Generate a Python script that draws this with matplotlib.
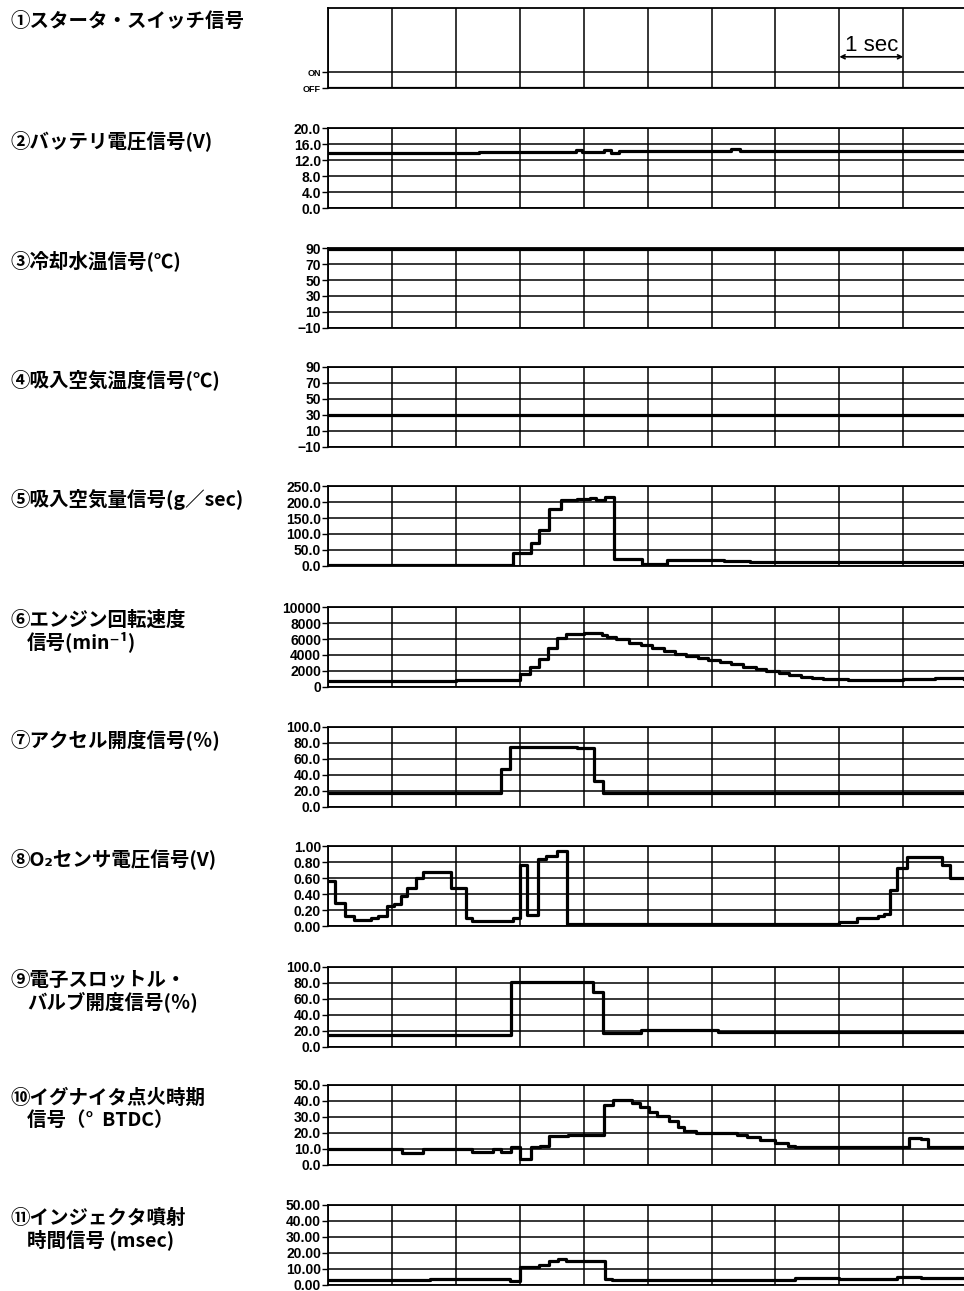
import matplotlib.pyplot as plt

plt.rcParams['font.family'] = ['Noto Sans CJK JP', 'DejaVu Sans']

T_END = 9.95  # seconds visible in the strip

# ---- data (time in s, step values) ----
starter_t = [0, T_END]
starter_v = [0, 0]

batt_t = [0, 2.37, 3.88, 3.98, 4.32, 4.43, 4.56, 6.3, 6.45, T_END]
batt_v = [13.75, 14.0, 14.4, 14.0, 14.4, 13.75, 14.2, 14.7, 14.2, 14.2]

cool_t = [0, T_END]
cool_v = [89.3, 89.3]

intake_t = [0, T_END]
intake_v = [30.5, 30.5]

maf_t = [0, 2.0, 2.89, 3.18, 3.30, 3.46, 3.64, 3.9, 4.1, 4.2, 4.34, 4.48, 4.92,
         5.3, 5.9, 6.2, 6.6, T_END]
maf_v = [2, 3, 42, 72, 113, 178, 205, 208, 213, 207, 215, 23, 7,
         18, 20, 16, 11, 9]

rpm_t = [0, 2.0, 3.01, 3.16, 3.30, 3.44, 3.59, 3.73, 4.0, 4.29, 4.36, 4.5, 4.71,
         4.9, 5.07, 5.25, 5.43, 5.6, 5.79, 5.95, 6.14, 6.3, 6.5, 6.7, 6.86, 7.05,
         7.21, 7.4, 7.57, 7.75, 7.93, 8.14, 8.64, 9.0, 9.5, T_END]
rpm_v = [740, 900, 1650, 2550, 3500, 4850, 6100, 6650, 6800, 6550, 6300, 5950, 5550,
         5200, 4850, 4450, 4100, 3850, 3600, 3350, 3100, 2850, 2550, 2300, 2050, 1750,
         1500, 1300, 1150, 1050, 950, 820, 820, 1000, 1150, 1050]

acc_t = [0, 2.71, 2.85, 3.9, 4.16, 4.31, 6.0, T_END]
acc_v = [17, 48, 75, 74, 32, 17, 18, 18]

o2_t = [0, 0.11, 0.27, 0.40, 0.67, 0.78, 0.92, 1.03, 1.14, 1.24, 1.37, 1.49, 1.93,
        2.16, 2.25, 2.9, 3.0, 3.12, 3.29, 3.41, 3.59, 3.74, 8.0, 8.28, 8.6, 8.7,
        8.8, 8.9, 9.06, 9.6, 9.73, T_END]
o2_v = [0.56, 0.29, 0.12, 0.07, 0.10, 0.13, 0.25, 0.28, 0.37, 0.47, 0.60, 0.68, 0.47,
        0.10, 0.06, 0.095, 0.76, 0.14, 0.84, 0.88, 0.94, 0.02, 0.05, 0.10, 0.12, 0.15,
        0.45, 0.73, 0.86, 0.76, 0.60, 0.60]

thr_t = [0, 2.87, 4.15, 4.31, 4.89, 6.1, T_END]
thr_v = [15, 81, 69, 17, 21, 19, 19]

ign_t = [0, 1.15, 1.48, 2.26, 2.58, 2.71, 2.87, 3.01, 3.18, 3.32, 3.46, 3.75, 4.32,
         4.46, 4.75, 4.88, 5.02, 5.15, 5.33, 5.47, 5.57, 5.76, 6.4, 6.55, 6.76, 7.0,
         7.19, 7.3, 9.09, 9.27, 9.38, T_END]
ign_v = [10, 7.7, 10, 8, 10, 8.3, 11.5, 3.5, 11, 12, 18, 19, 37.5,
         40.6, 39, 36, 33, 30.6, 27.5, 24, 21, 20, 19, 17.5, 15.6, 13.5,
         12, 11.2, 17, 16, 11.2, 11.2]

inj_t = [0, 1.6, 2.85, 3.0, 3.3, 3.45, 3.6, 3.73, 4.0, 4.33, 4.45, 7.3, 8.0, 8.9, 9.27, T_END]
inj_v = [3.0, 3.8, 2.8, 11.3, 12.7, 14.7, 16, 15.3, 14.7, 3.9, 3.2, 4.2, 3.8, 5.2, 4.5, 4.5]

# ---- panel definitions ----
labels = [
    ['①スタータ・スイッチ信号'],
    ['②バッテリ電圧信号(V)'],
    ['③冷却水温信号(℃)'],
    ['④吸入空気温度信号(℃)'],
    ['⑤吸入空気量信号(g／sec)'],
    ['⑥エンジン回転速度', '信号(min⁻¹)'],
    ['⑦アクセル開度信号(％)'],
    ['⑧O₂センサ電圧信号(V)'],
    ['⑨電子スロットル・', 'バルブ開度信号(％)'],
    ['⑩イグナイタ点火時期', '信号（°  BTDC）'],
    ['⑪インジェクタ噴射', '時間信号 (msec)'],
]
yticks = [
    [0, 1],
    [0, 4, 8, 12, 16, 20],
    [-10, 10, 30, 50, 70, 90],
    [-10, 10, 30, 50, 70, 90],
    [0, 50, 100, 150, 200, 250],
    [0, 2000, 4000, 6000, 8000, 10000],
    [0, 20, 40, 60, 80, 100],
    [0, 0.2, 0.4, 0.6, 0.8, 1.0],
    [0, 20, 40, 60, 80, 100],
    [0, 10, 20, 30, 40, 50],
    [0, 10, 20, 30, 40, 50],
]
ylabels = [
    ['OFF', 'ON'],
    ['0.0', '4.0', '8.0', '12.0', '16.0', '20.0'],
    ['−10', '10', '30', '50', '70', '90'],
    ['−10', '10', '30', '50', '70', '90'],
    ['0.0', '50.0', '100.0', '150.0', '200.0', '250.0'],
    ['0', '2000', '4000', '6000', '8000', '10000'],
    ['0.0', '20.0', '40.0', '60.0', '80.0', '100.0'],
    ['0.00', '0.20', '0.40', '0.60', '0.80', '1.00'],
    ['0.0', '20.0', '40.0', '60.0', '80.0', '100.0'],
    ['0.0', '10.0', '20.0', '30.0', '40.0', '50.0'],
    ['0.00', '10.00', '20.00', '30.00', '40.00', '50.00'],
]
series = [(starter_t, starter_v), (batt_t, batt_v), (cool_t, cool_v), (intake_t, intake_v),
          (maf_t, maf_v), (rpm_t, rpm_v), (acc_t, acc_v), (o2_t, o2_v),
          (thr_t, thr_v), (ign_t, ign_v), (inj_t, inj_v)]

W, H = 964, 1291
tops = [8, 128, 248, 367, 486, 607, 727, 846, 967, 1085, 1205]
ph = 80
left = 328

fig = plt.figure(figsize=(W / 100, H / 100), dpi=100)

for i in range(11):
    ax = fig.add_axes([left / W, 1 - (tops[i] + ph) / H, (W - left) / W, ph / H])
    t, v = series[i]
    ax.step(t, v, where='post', color='black', lw=2.3, zorder=3)
    ax.set_xlim(0, T_END)
    if i == 0:
        ax.set_ylim(0, 5)
    else:
        ax.set_ylim(yticks[i][0], yticks[i][-1])
    ax.set_xticks(range(10))
    ax.set_yticks(yticks[i])
    ax.set_yticklabels(ylabels[i], family='Liberation Sans', fontweight='bold',
                       fontsize=6.5 if i == 0 else 10)
    ax.tick_params(axis='x', length=0, labelbottom=False)
    ax.tick_params(axis='y', direction='out', length=4, width=1, pad=1)
    ax.grid(True, color='black', linewidth=1.1)
    ax.spines['right'].set_visible(False)
    for s in ['top', 'left', 'bottom']:
        ax.spines[s].set_linewidth(1.3)

    # panel caption on the left
    y0 = 1 - (tops[i] + 13) / H
    fig.text(10 / W, y0, labels[i][0], fontsize=14, fontweight='bold', va='center', ha='left')
    if len(labels[i]) > 1:
        fig.text(27 / W, y0 - 22 / H, labels[i][1], fontsize=14, fontweight='bold',
                 va='center', ha='left')

    if i == 0:
        ax.annotate('', xy=(8, 1.95), xytext=(9, 1.95),
                    arrowprops=dict(arrowstyle='<->', lw=1.2, color='black',
                                    shrinkA=0, shrinkB=0, mutation_scale=7))
        ax.text(8.5, 2.0, '1 sec', family='Liberation Sans', fontsize=16,
                ha='center', va='bottom')

fig.savefig('out.png', dpi=100)
